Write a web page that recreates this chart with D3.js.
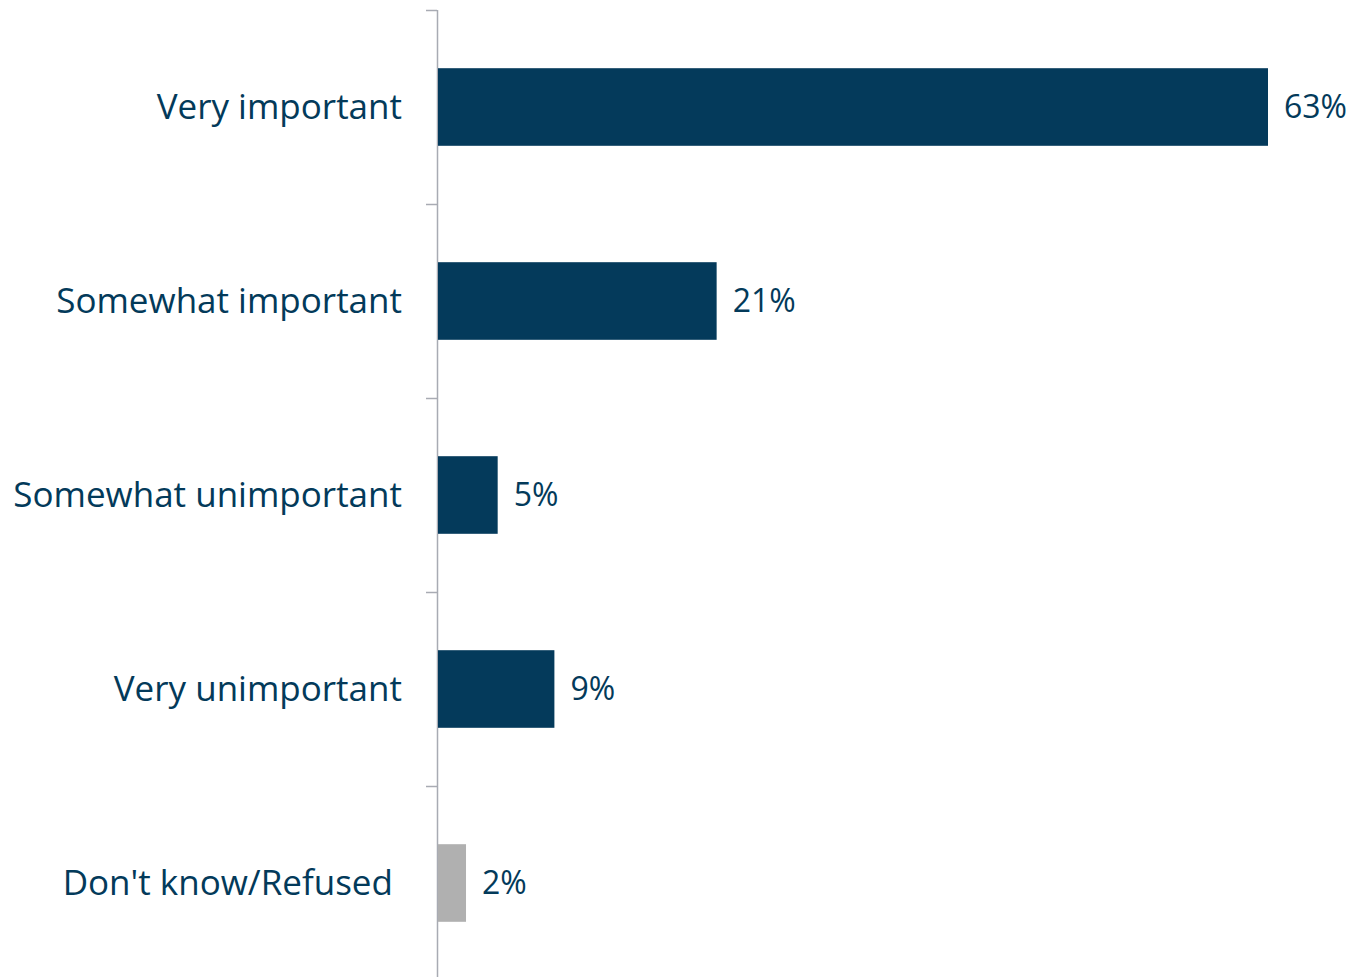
<!DOCTYPE html>
<html><head><meta charset="utf-8">
<script src="https://cdn.jsdelivr.net/npm/d3@7"></script>
<style>
html,body{margin:0;padding:0;background:#fff;}
svg{display:block;}
text{font-family:"Open Sans","Noto Sans",sans-serif;fill:#033a5a;}
</style></head>
<body><svg id="c" width="1350" height="977"></svg>
<script>
const categories = ["Very important","Somewhat important","Somewhat unimportant","Very unimportant","Don't know/Refused "];
const values = [63,21.2,4.6,8.9,2.2];
const barColors = ["#043a5b","#043a5b","#043a5b","#043a5b","#b0b0b0"];

const svg = d3.select("#c");
const x0 = 437;
const x = d3.scaleLinear().domain([0,63]).range([x0,1268]);
const y = d3.scaleBand().domain(categories).range([10,980]).paddingInner(0.6).paddingOuter(0.3);
const fmt = d3.format(".0f");

const step = y.step();
const bounds = d3.range(categories.length+1).map(i=>10+i*step);
svg.append("line").attr("x1",x0+0.5).attr("x2",x0+0.5).attr("y1",10).attr("y2",977)
  .attr("stroke","#a8abb3").attr("stroke-width",1.5);
svg.selectAll(".bt").data(bounds).join("line").attr("class","bt")
  .attr("x1",x0-11).attr("x2",x0).attr("y1",d=>d+0.5).attr("y2",d=>d+0.5)
  .attr("stroke","#a8abb3").attr("stroke-width",1.5);

svg.selectAll(".bar").data(categories).join("rect").attr("class","bar")
  .attr("x",x0+1).attr("y",d=>y(d)).attr("height",y.bandwidth())
  .attr("width",(d,i)=>x(values[i])-x0-1).attr("fill",(d,i)=>barColors[i]);

svg.selectAll(".cat").data(categories).join("text").attr("class","cat")
  .attr("x",402).attr("y",d=>y(d)+y.bandwidth()/2).attr("dy","0.35em")
  .attr("text-anchor","end").style("white-space","pre").attr("font-size",35).text(d=>d);

svg.selectAll(".val").data(categories).join("text").attr("class","val")
  .attr("x",(d,i)=>x(values[i])+16).attr("y",d=>y(d)+y.bandwidth()/2).attr("dy","0.35em")
  .attr("font-size",32).text((d,i)=>fmt(values[i])+"%");
</script></body></html>
